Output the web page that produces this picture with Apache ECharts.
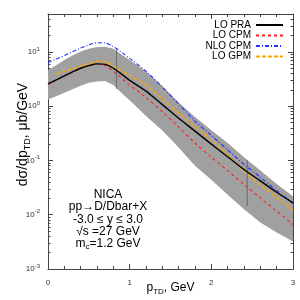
<!DOCTYPE html>
<html><head><meta charset="utf-8">
<script src="https://cdn.jsdelivr.net/npm/echarts@6/dist/echarts.min.js"></script>
<style>html,body{margin:0;padding:0;background:#fff}#c{width:300px;height:300px}</style>
</head><body><div id="c"></div>
<script>
// ---- data ----
const pTD = [0,0.1,0.2,0.3,0.4,0.5,0.6,0.7,0.8,0.9,1.0,1.2,1.4,1.6,1.8,2.0,2.2,2.4,2.6,2.8,3.0];
const loPRA  = [2.57,3.05,3.63,4.27,5.0,5.6,6.03,5.9,5.0,3.9,3.0,1.9,1.07,0.60,0.347,0.20,0.117,0.068,0.042,0.026,0.0166];
const loCPM  = [2.55,3.0,3.6,4.25,4.95,5.55,5.95,5.6,4.4,3.3,2.45,1.45,0.79,0.41,0.21,0.115,0.065,0.036,0.0204,0.0117,0.0066];
const nloCPM = [6.3,7.4,8.6,10.1,11.8,13.5,14.8,14.6,12.5,9.9,7.6,4.4,2.25,1.1,0.53,0.29,0.156,0.085,0.049,0.028,0.0162];
const pGPM   = [0.1,0.2,0.3,0.4,0.5,0.6,0.7,0.8,0.9,1.0,1.2,1.4,1.6,1.8,2.0,2.2,2.4,2.6,2.8,3.0];
const loGPM  = [3.85,4.4,4.9,5.45,6.1,6.7,6.6,5.55,4.5,3.7,2.45,1.35,0.74,0.42,0.24,0.126,0.063,0.0355,0.0209,0.0124];
const bandHi = [4.6,5.7,7.1,8.6,10.2,11.5,12.3,12.5,11.5,9.0,7.1,4.35,2.35,1.17,0.63,0.36,0.21,0.115,0.065,0.037,0.022];
const bandLo = [1.33,1.52,1.77,2.05,2.37,2.7,2.85,2.9,2.45,1.75,1.29,0.66,0.355,0.174,0.08,0.044,0.0234,0.0126,0.0072,0.0047,0.0032];
const seamA = [[0.84,11.1],[0.84,2.09]];
const seamB = [[2.44,0.101],[2.44,0.0145]];
const xTicks = [0,1,2,3];
const yMajor = [0.001,0.01,0.1,1,10];
const legendNames = ['LO PRA','LO CPM','NLO CPM','LO GPM'];
const infoLines = ['NICA','pp→D/Dbar+X','-3.0 ≤ y ≤ 3.0','√s =27 GeV','{t|m}{s|c}{t|=1.2 GeV}'];

const yMinor = [];
for (let d = -3; d <= 1; d++) for (let k = 2; k <= 9; k++) { const v = k * Math.pow(10, d); if (v < 50) yMinor.push(+v.toPrecision(3)); }

const FONT = "'Liberation Sans', Arial, sans-serif";
const AX = '#444';
const yBase = { type:'log', logBase:10, min:0.001, max:50, splitLine:{show:false},
  axisLine:{show:true, lineStyle:{color:AX, width:1}} };

const chart = echarts.init(document.getElementById('c'), null, {renderer:'canvas'});
chart.setOption({
  animation:false,
  textStyle:{fontFamily:FONT},
  grid:{left:48, right:7, top:14, bottom:31, containLabel:false, outerBoundsMode:'none'},
  legend:{
    data:legendNames, orient:'vertical', right:11, top:15, align:'right',
    itemWidth:27, itemHeight:10, itemGap:0.5,
    itemStyle:{opacity:0, color:'transparent', borderWidth:0},
    textStyle:{fontSize:10, color:'#000', fontFamily:FONT, lineHeight:10, padding:[0,0,0,0]}
  },
  xAxis:[
    { type:'value', min:0, max:3, interval:1, position:'bottom',
      axisLine:{show:true, onZero:false, lineStyle:{color:AX}},
      axisTick:{show:true, inside:true, length:5, lineStyle:{color:AX}},
      minorTick:{show:true, splitNumber:5, length:3, lineStyle:{color:AX}},
      splitLine:{show:false},
      axisLabel:{fontSize:8, color:'#333', margin:10, customValues:xTicks},
      name:'{a|p}{s|TD}{a|, GeV}', nameLocation:'middle', nameGap:11, nameMoveOverlap:false,
      nameTextStyle:{color:'#000', rich:{a:{fontSize:12, lineHeight:16, fontFamily:FONT, color:'#000'}, s:{fontSize:8, lineHeight:8, verticalAlign:'bottom', fontFamily:FONT, color:'#000'}}}
    },
    { type:'value', min:0, max:3, interval:1, position:'top',
      axisLine:{show:true, onZero:false, lineStyle:{color:AX}},
      axisTick:{show:true, inside:true, length:5, lineStyle:{color:AX}},
      minorTick:{show:true, splitNumber:5, length:3, lineStyle:{color:AX}},
      splitLine:{show:false}, axisLabel:{show:false}
    }
  ],
  yAxis:[
    Object.assign({}, yBase, { position:'left',
      axisTick:{show:true, inside:true, length:5, customValues:yMajor, lineStyle:{color:AX}},
      axisLabel:{customValues:yMajor, margin:8, color:'#333',
        formatter:function(v){ const e = Math.round(Math.log10(v)); return '{b|10}{e|' + e + '}'; },
        rich:{ b:{fontSize:8, lineHeight:12, color:'#333', fontFamily:FONT}, e:{fontSize:6, lineHeight:6, verticalAlign:'top', color:'#333', fontFamily:FONT} } },
      name:'{a|dσ/dp}{s|TD}{a|, μb/GeV}', nameLocation:'middle', nameGap:16, nameMoveOverlap:false,
      nameTextStyle:{color:'#000', padding:[0,0,0,14], rich:{a:{fontSize:14, lineHeight:18, fontFamily:FONT, color:'#000'}, s:{fontSize:9, lineHeight:9, verticalAlign:'bottom', fontFamily:FONT, color:'#000'}}}
    }),
    Object.assign({}, yBase, { position:'left', axisLine:{show:false},
      axisTick:{show:true, inside:true, length:2.5, customValues:yMinor, lineStyle:{color:AX}},
      axisLabel:{show:false} }),
    Object.assign({}, yBase, { position:'right',
      axisTick:{show:true, inside:true, length:5, customValues:yMajor, lineStyle:{color:AX}},
      axisLabel:{show:false} }),
    Object.assign({}, yBase, { position:'right', axisLine:{show:false},
      axisTick:{show:true, inside:true, length:2.5, customValues:yMinor, lineStyle:{color:AX}},
      axisLabel:{show:false} })
  ],
  graphic: infoLines.map(function(t, i){
    return { type:'text', x:108, y:194.5 + i*12.4, silent:true, z:10,
      style:{ text:t, textAlign:'center', textVerticalAlign:'middle', fill:'#000', font:'12px ' + FONT,
        rich:{ t:{fontSize:12, lineHeight:14, fontFamily:FONT, fill:'#000'}, s:{fontSize:8, lineHeight:7, verticalAlign:'bottom', fontFamily:FONT, fill:'#000'} } } };
  }),
  series:[
    { type:'custom', name:'band', silent:true, z:1,
      data:pTD.map(function(x,i){ return [x, bandHi[i], bandLo[i]]; }),
      encode:{x:0, y:[1,2]},
      renderItem:function(params, api){
        if (params.dataIndex !== 0) return null;
        const pts = [];
        for (let i = 0; i < pTD.length; i++) pts.push(api.coord([pTD[i], bandHi[i]]));
        for (let i = pTD.length - 1; i >= 0; i--) pts.push(api.coord([pTD[i], bandLo[i]]));
        return { type:'polygon', shape:{points:pts, smooth:0}, style:{fill:'#a0a0a0', stroke:null},
          clipPath:{type:'rect', shape:{x:params.coordSys.x, y:params.coordSys.y, width:params.coordSys.width, height:params.coordSys.height}} };
      }
    },
    { type:'line', name:'seamA', data:seamA, symbol:'none', silent:true, z:2, lineStyle:{color:'#6a6a6a', width:1} },
    { type:'line', name:'seamB', data:seamB, symbol:'none', silent:true, z:2, lineStyle:{color:'#6a6a6a', width:1} },
    { type:'line', name:'LO PRA', data:pTD.map(function(x,i){return [x, loPRA[i]];}), symbol:'none', smooth:0.3, z:5,
      lineStyle:{color:'#000', width:1.4}, itemStyle:{color:'#000'} },
    { type:'line', name:'LO CPM', data:pTD.map(function(x,i){return [x, loCPM[i]];}), symbol:'none', smooth:0.3, z:4,
      lineStyle:{color:'#ff2020', width:1.1, type:[3,3]}, itemStyle:{color:'#ff2020'} },
    { type:'line', name:'NLO CPM', data:pTD.map(function(x,i){return [x, nloCPM[i]];}), symbol:'none', smooth:0.3, z:4,
      lineStyle:{color:'#2030ff', width:1.1, type:[4,2,1,2]}, itemStyle:{color:'#2030ff'} },
    { type:'line', name:'LO GPM', data:pGPM.map(function(x,i){return [x, loGPM[i]];}), symbol:'none', smooth:0.3, z:4,
      lineStyle:{color:'#ffa500', width:1.4, type:[4,2]}, itemStyle:{color:'#ffa500'} }
  ]
});
</script></body></html>
